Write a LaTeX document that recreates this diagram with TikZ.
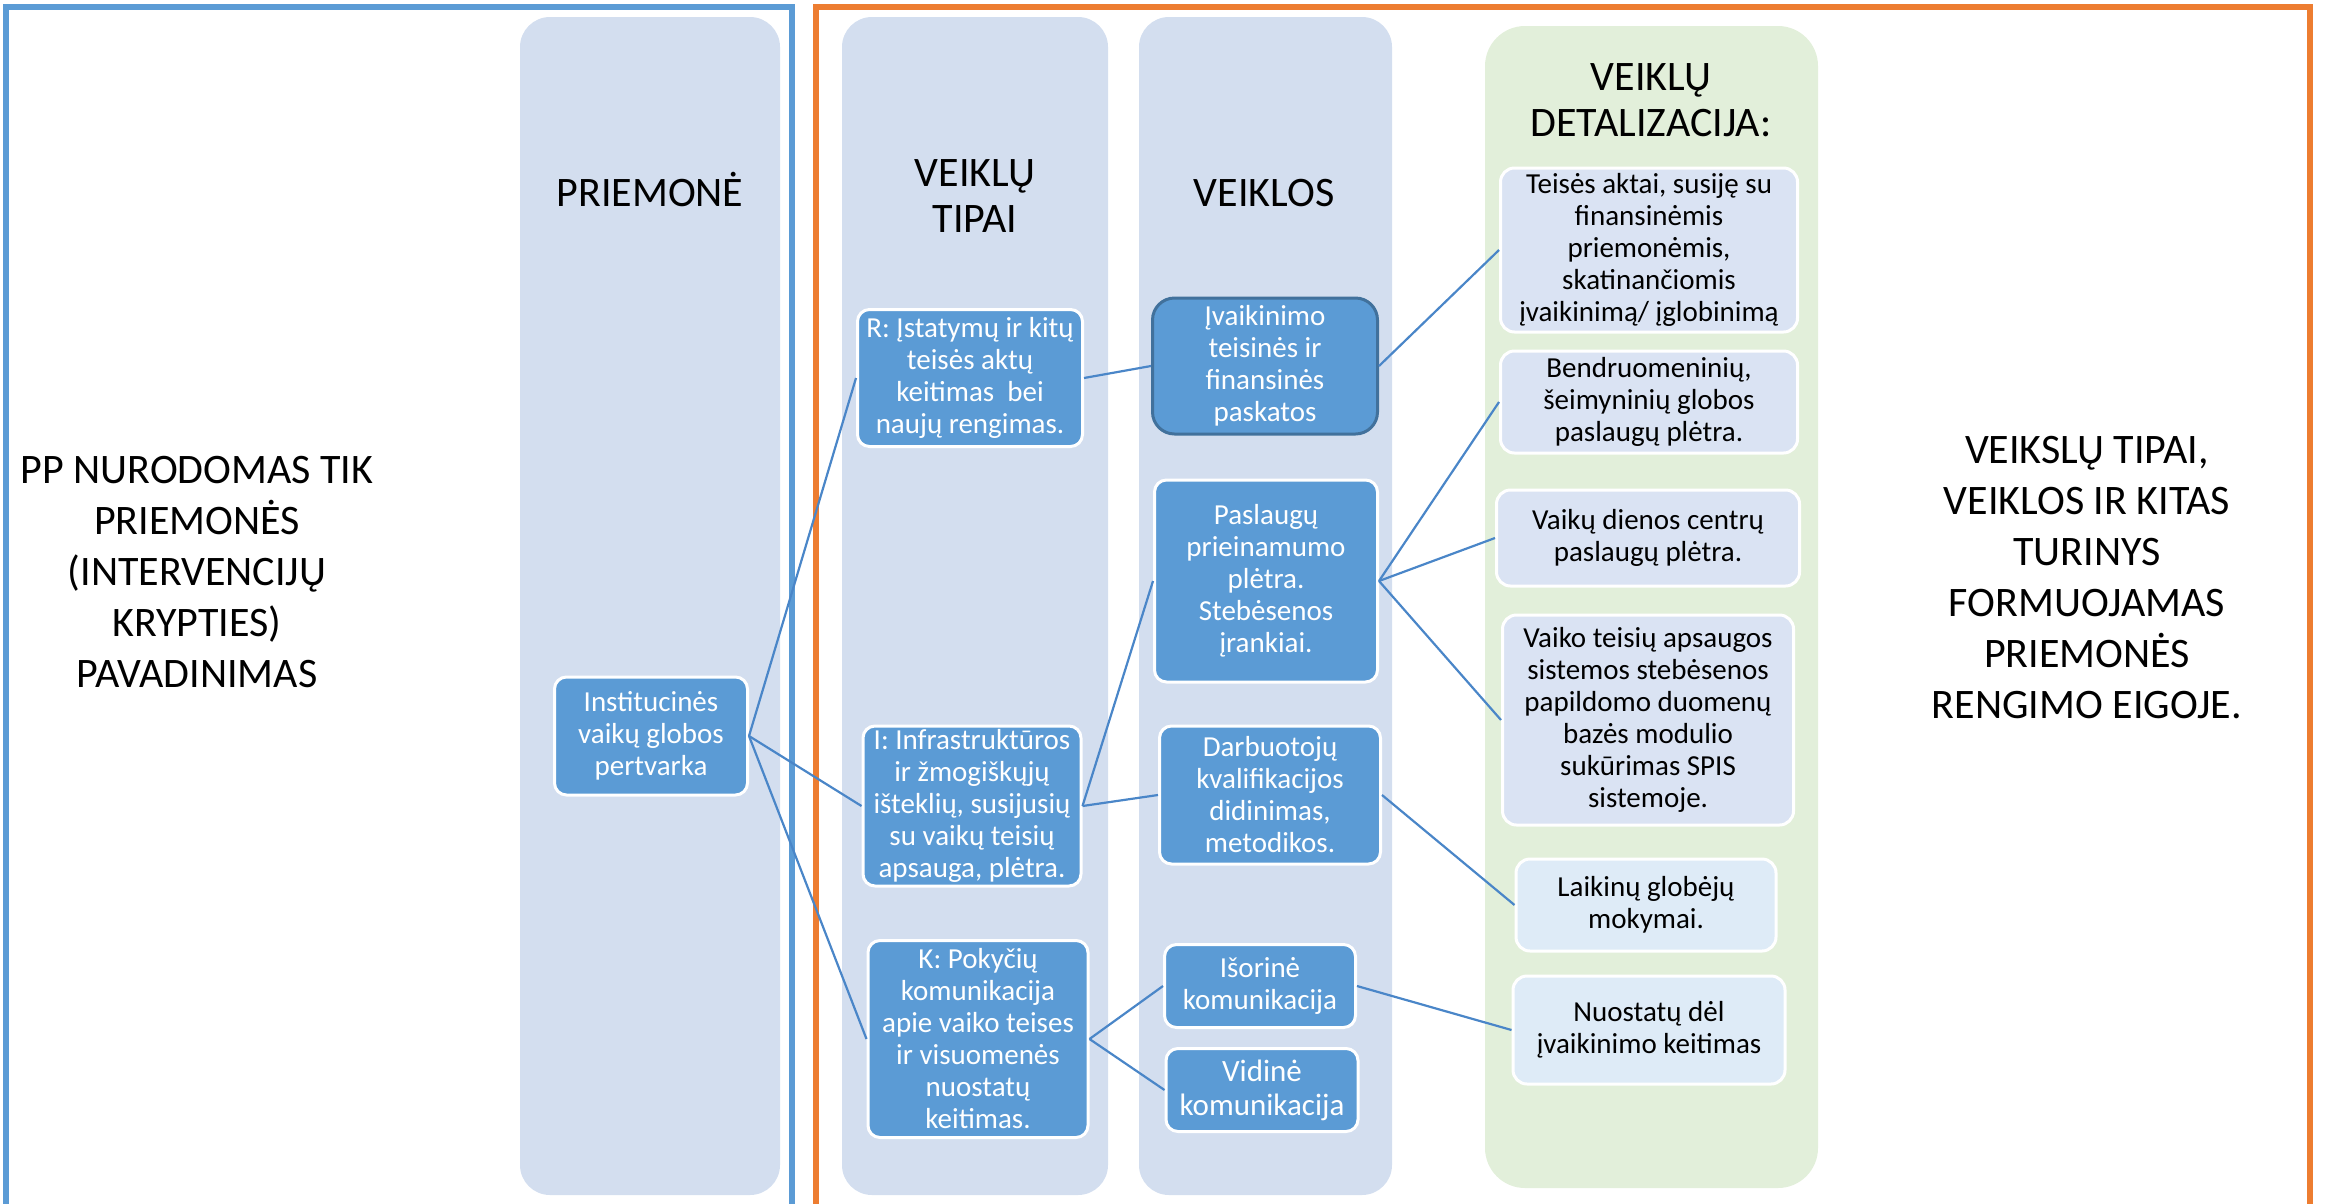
\documentclass[tikz,border=0pt]{standalone}
\usepackage{fontspec}
\setmainfont{Carlito}
\definecolor{colfill}{HTML}{D3DEEF}
\definecolor{detfill}{HTML}{E2EFDA}
\definecolor{boxblue}{HTML}{5B9BD5}
\definecolor{boxedge}{HTML}{41719C}
\definecolor{lightbox}{HTML}{DAE3F3}
\definecolor{lighterbox}{HTML}{DEEBF7}
\definecolor{connblue}{HTML}{4A86C8}
\definecolor{frameblue}{HTML}{5B9BD5}
\definecolor{frameorange}{HTML}{ED7D31}

\begin{document}
\begin{tikzpicture}[x=1pt,y=-1pt]
        \tikzstyle{column} = [fill=colfill, rounded corners=30pt]
        \tikzstyle{head} = [align=center, font=\fontsize{42}{46}\selectfont, inner sep=0pt]
        \tikzstyle{side} = [align=center, font=\fontsize{42}{51}\selectfont, inner sep=0pt]
        \tikzstyle{dark} = [rectangle, rounded corners=12pt, fill=boxblue, draw=white, line width=3pt, text=white, align=center, font=\fontsize{29}{32}\selectfont, inner sep=0pt]
        \tikzstyle{light} = [rectangle, rounded corners=14pt, fill=lightbox, draw=white, line width=3pt, align=center, font=\fontsize{29}{32}\selectfont, inner sep=0pt]
        \tikzstyle{conn} = [connblue, line width=2.2pt]
        \useasboundingbox (0,0) rectangle (2326,1203);
        % frames
        \draw[frameblue, line width=6pt] (6,7) rectangle (792,1240);
        \draw[frameorange, line width=6pt] (816,7) rectangle (2310,1240);
        % columns
        \fill[column] (520,17) rectangle (780,1195);
        \fill[column] (842,17) rectangle (1108,1195);
        \fill[column] (1139,17) rectangle (1392,1195);
        \fill[column, fill=detfill, rounded corners=40pt] (1485,26) rectangle (1818,1188);
        % headers
        \node (hprie) [head, anchor=base] at (650, 206) {PRIEMONĖ};
        \node (htipai) [head] at (975, 196) {VEIKLŲ\\TIPAI};
        \node (hveik) [head, anchor=base] at (1264, 206) {VEIKLOS};
        \node (hdet) [head] at (1651, 100) {VEIKLŲ\\DETALIZACIJA:};
        \node (pp) [side] at (197, 572) {PP NURODOMAS TIK\\PRIEMONĖS\\(INTERVENCIJŲ\\KRYPTIES)\\PAVADINIMAS};
        \node (turinys) [side] at (2087, 578) {VEIKSLŲ TIPAI,\\VEIKLOS IR KITAS\\TURINYS\\FORMUOJAMAS\\PRIEMONĖS\\RENGIMO EIGOJE.};
        % priemone
        \node (inst) [dark, minimum width=193pt, minimum height=118pt] at (651, 736) {Institucinės\\vaikų globos\\pertvarka};
        % veikly tipai
        \node (rbox) [dark, minimum width=225pt, minimum height=137pt] at (970, 378) {R: Įstatymų ir kitų\\teisės aktų\\keitimas~ bei\\naujų rengimas.};
        \node (ibox) [dark, minimum width=218pt, minimum height=160pt] at (972, 806) {I: Infrastruktūros\\ir žmogiškųjų\\išteklių, susijusių\\su vaikų teisių\\apsauga, plėtra.};
        \node (kbox) [dark, minimum width=220pt, minimum height=197pt] at (978, 1039) {K: Pokyčių\\komunikacija\\apie vaiko teises\\ir visuomenės\\nuostatų\\keitimas.};
        % veiklos
        \node (ivaik) [dark, draw=boxedge, rounded corners=22pt, minimum width=225pt, minimum height=136pt] at (1265, 366) {Įvaikinimo\\teisinės ir\\finansinės\\paskatos};
        \node (paslaug) [dark, minimum width=223pt, minimum height=202pt] at (1266, 581) {Paslaugų\\prieinamumo\\plėtra.\\Stebėsenos\\įrankiai.};
        \node (darb) [dark, minimum width=221pt, minimum height=138pt] at (1270, 795) {Darbuotojų\\kvalifikacijos\\didinimas,\\metodikos.};
        \node (isor) [dark, minimum width=191pt, minimum height=83pt] at (1260, 986) {Išorinė\\komunikacija};
        \node (vidin) [dark, minimum width=192pt, minimum height=83pt, font=\fontsize{31}{34}\selectfont] at (1262, 1090) {Vidinė\\komunikacija};
        % detalizacija
        \node (teises) [light, minimum width=297pt, minimum height=164pt] at (1649, 250) {Teisės aktai, susiję su\\finansinėmis\\priemonėmis,\\skatinančiomis\\įvaikinimą/ įglobinimą};
        \node (bendr) [light, minimum width=297pt, minimum height=102pt] at (1649, 402) {Bendruomeninių,\\šeimyninių globos\\paslaugų plėtra.};
        \node (vdc) [light, minimum width=303pt, minimum height=96pt] at (1648, 538) {Vaikų dienos centrų\\paslaugų plėtra.};
        \node (vtap) [light, minimum width=291pt, minimum height=210pt] at (1648, 720) {Vaiko teisių apsaugos\\sistemos stebėsenos\\papildomo duomenų\\bazės modulio\\sukūrimas SPIS\\sistemoje.};
        \node (laik) [light, fill=lighterbox, minimum width=260pt, minimum height=92pt] at (1646, 905) {Laikinų globėjų\\mokymai.};
        \node (nuost) [light, fill=lighterbox, minimum width=272pt, minimum height=108pt] at (1649, 1030) {Nuostatų dėl\\įvaikinimo keitimas};
        % connectors
        \draw[conn] (inst.east) to (rbox.west);
        \draw[conn] (inst.east) to (ibox.west);
        \draw[conn] (inst.east) to (kbox.west);
        \draw[conn] (rbox.east) to (ivaik.west);
        \draw[conn] (ibox.east) to (paslaug.west);
        \draw[conn] (ibox.east) to (darb.west);
        \draw[conn] (kbox.east) to (isor.west);
        \draw[conn] (kbox.east) to (vidin.west);
        \draw[conn] (ivaik.east) to (teises.west);
        \draw[conn] (paslaug.east) to (bendr.west);
        \draw[conn] (paslaug.east) to (vdc.west);
        \draw[conn] (paslaug.east) to (vtap.west);
        \draw[conn] (darb.east) to (laik.west);
        \draw[conn] (isor.east) to (nuost.west);
\end{tikzpicture}
\end{document}
